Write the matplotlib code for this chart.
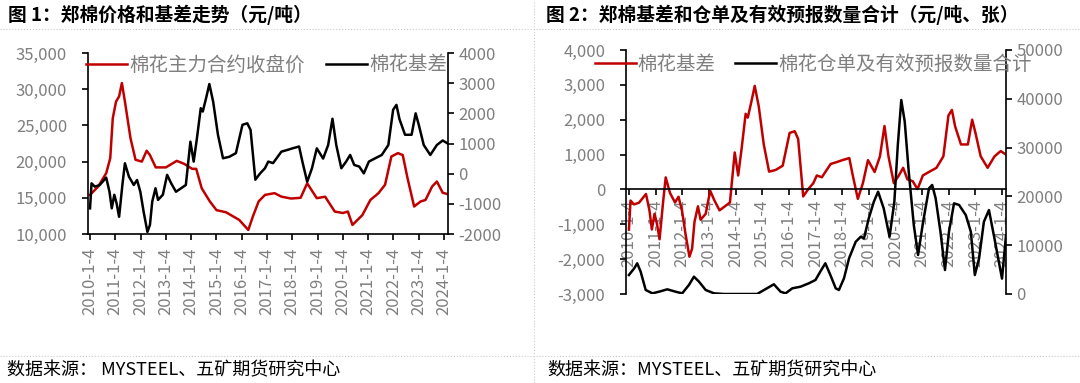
import matplotlib
matplotlib.use('Agg')
import matplotlib.pyplot as plt
import matplotlib.ticker as mticker
from matplotlib.lines import Line2D

plt.rcParams['font.family'] = ['Noto Sans CJK SC', 'DejaVu Sans']
plt.rcParams['axes.unicode_minus'] = False

# 棉花主力合约收盘价 (元/吨), 时间按小数年份读取
t_price = [2010.0, 2010.32, 2010.64, 2010.8, 2010.9, 2011.03, 2011.15, 2011.26, 2011.38, 2011.6,
           2011.8, 2012.05, 2012.24, 2012.37, 2012.6, 2013.0, 2013.43, 2013.72, 2014.04, 2014.2,
           2014.42, 2014.74, 2015.0, 2015.38, 2015.9, 2016.26, 2016.45, 2016.67, 2016.92, 2017.3,
           2017.57, 2017.95, 2018.33, 2018.59, 2018.97, 2019.3, 2019.68, 2020.0, 2020.2, 2020.38,
           2020.77, 2021.09, 2021.41, 2021.67, 2021.92, 2022.18, 2022.37, 2022.56, 2022.82, 2023.08,
           2023.27, 2023.53, 2023.72, 2023.95, 2024.15]
price = [15400, 16550, 18400, 20480, 26000, 28300, 29000, 30850, 28300, 23250,
         20250, 20000, 21500, 20900, 19200, 19200, 20100, 19700, 19000, 19000,
         16300, 14500, 13300, 13000, 11950, 10560, 12500, 14500, 15400, 15640,
         15160, 14900, 15000, 17000, 14950, 15150, 13100, 12900, 13100, 11250,
         12600, 14700, 15640, 16800, 20700, 21170, 20900, 17700, 13800, 14500,
         14700, 16550, 17250, 15700, 15500]

# 棉花基差 (元/吨)
t_basis = [2010.0, 2010.06, 2010.19, 2010.38, 2010.64, 2010.77, 2010.86, 2010.96, 2011.05, 2011.15,
           2011.28, 2011.38, 2011.54, 2011.73, 2011.86, 2011.99, 2012.12, 2012.27, 2012.37, 2012.46,
           2012.59, 2012.69, 2012.88, 2013.05, 2013.21, 2013.4, 2013.6, 2013.79, 2013.97, 2014.1,
           2014.23, 2014.38, 2014.46, 2014.59, 2014.72, 2014.87, 2015.06, 2015.26, 2015.51, 2015.77,
           2016.03, 2016.22, 2016.35, 2016.54, 2016.73, 2016.92, 2017.05, 2017.24, 2017.57, 2017.82,
           2018.01, 2018.27, 2018.4, 2018.59, 2018.78, 2018.97, 2019.22, 2019.42, 2019.59, 2019.74,
           2019.94, 2020.13, 2020.29, 2020.45, 2020.65, 2020.83, 2021.03, 2021.28, 2021.54, 2021.8,
           2021.99, 2022.12, 2022.24, 2022.46, 2022.72, 2022.88, 2023.01, 2023.2, 2023.46, 2023.72,
           2023.95, 2024.15]
basis = [-1150, -320, -430, -380, -130, -600, -1150, -700, -980, -1430,
         -375, 345, -100, -375, -210, -600, -1260, -1930, -1700, -930,
         -485, -870, -700, -40, -320, -600, -485, -375, 1060, 400,
         1180, 2170, 2060, 2500, 2970, 2390, 1290, 510, 560, 680,
         1620, 1670, 1450, -200, 10, 180, 400, 350, 730, 790,
         840, 900, 400, -270, 180, 840, 500, 950, 1820, 950,
         180, 400, 620, 290, 235, 10, 400, 510, 620, 950,
         2120, 2280, 1810, 1290, 1290, 2000, 1600, 950, 620, 950,
         1100, 1000]

# 棉花仓单及有效预报数量合计 (张)
t_receipt = [2010.0, 2010.2, 2010.31, 2010.44, 2010.63, 2010.88, 2011.13, 2011.44, 2011.75, 2012.0,
             2012.25, 2012.44, 2012.63, 2012.88, 2013.19, 2013.56, 2014.81, 2015.07, 2015.44, 2015.69,
             2015.88, 2016.13, 2016.44, 2016.75, 2017.0, 2017.18, 2017.37, 2017.56, 2017.76, 2017.88,
             2018.07, 2018.26, 2018.51, 2018.7, 2018.82, 2019.0, 2019.19, 2019.35, 2019.56, 2019.78,
             2019.96, 2020.09, 2020.22, 2020.35, 2020.5, 2020.69, 2020.85, 2021.04, 2021.26, 2021.38,
             2021.51, 2021.69, 2021.86, 2022.01, 2022.2, 2022.39, 2022.64, 2022.83, 2022.98, 2023.14,
             2023.32, 2023.51, 2023.72, 2024.0, 2024.15]
receipt = [3900, 5270, 6290, 4570, 820, 140, 470, 960, 470, 140,
           1840, 3550, 2520, 820, 140, 0, 0, 820, 1990, 470,
           140, 1160, 1500, 2190, 2870, 4570, 6290, 3890, 1160, 820,
           3210, 7310, 10700, 11740, 11400, 15500, 18900, 20960, 17560, 11740,
           18900, 30500, 39750, 35300, 25060, 14140, 8000, 14800, 21650, 22340,
           19600, 12770, 4920, 12770, 18580, 18240, 16190, 12770, 3890, 7310,
           14800, 17200, 11300, 3150, 12000]

years = list(range(2010, 2025))
year_labels = ['%d-1-4' % y for y in years]

RED = '#C00000'
GRAY = '#7f7f7f'
W, H = 1080, 383

fig = plt.figure(figsize=(W / 100, H / 100), dpi=100)


def style(ax, sides):
    for s in ['top', 'left', 'right', 'bottom']:
        ax.spines[s].set_visible(s in sides)
        ax.spines[s].set_color('black')
        ax.spines[s].set_linewidth(1.2)
    ax.tick_params(direction='out', length=4, width=1.2, color='black',
                   labelcolor=GRAY, labelsize=12)


# ---- 图1 ----
ax1 = fig.add_axes([88 / W, 1 - 234 / H, (448 - 88) / W, (234 - 53) / H])
ax1b = ax1.twinx()
l1, = ax1.plot(t_price, price, color=RED, lw=1.8)
l2, = ax1b.plot(t_basis, basis, color='black', lw=1.8)
ax1.set_xlim(2009.92, 2024.16)
ax1.set_ylim(10000, 35000)
ax1b.set_ylim(-2000, 4000)
ax1.yaxis.set_major_locator(mticker.MultipleLocator(5000))
ax1.yaxis.set_major_formatter(mticker.FuncFormatter(lambda v, p: '{:,.0f}'.format(v)))
ax1b.yaxis.set_major_locator(mticker.MultipleLocator(1000))
style(ax1, ['left', 'bottom'])
style(ax1b, ['right'])
ax1.tick_params(axis='y', pad=11)
ax1.tick_params(axis='x', pad=6)
ax1.set_xticks(years)
ax1.set_xticklabels(year_labels, rotation=90)
fig.legend([l1, l2], ['棉花主力合约收盘价', '棉花基差'], loc='center left',
           bbox_to_anchor=(86 / W, 1 - 65 / H), ncol=2, frameon=False, fontsize=14,
           labelcolor=GRAY, handlelength=2.1, handletextpad=0.12, columnspacing=1.1,
           borderpad=0, borderaxespad=0)

# ---- 图2 ----
ax2 = fig.add_axes([626 / W, 1 - 294 / H, (1006 - 626) / W, (294 - 50) / H])
ax2b = ax2.twinx()
r1, = ax2.plot(t_basis, basis, color=RED, lw=1.8)
r2, = ax2b.plot(t_receipt, receipt, color='black', lw=1.8)
ax2.set_xlim(2009.89, 2024.15)
ax2.set_ylim(-3000, 4000)
ax2b.set_ylim(0, 50000)
style(ax2, ['left', 'bottom'])
style(ax2b, ['right'])
ax2.spines['bottom'].set_position(('data', 0))
ax2.yaxis.set_major_locator(mticker.MultipleLocator(1000))
ax2.yaxis.set_major_formatter(mticker.FuncFormatter(lambda v, p: '{:,.0f}'.format(v)))
ax2b.yaxis.set_major_locator(mticker.MultipleLocator(10000))
ax2.tick_params(axis='y', pad=11)
ax2.set_xticks(years)
ax2.set_xticklabels(year_labels, rotation=90)
ax2.tick_params(axis='x', direction='out', length=4, width=1.2, color='black',
                labelcolor=GRAY, labelsize=12)
fig.legend([r1, r2], ['棉花基差', '棉花仓单及有效预报数量合计'], loc='center left',
           bbox_to_anchor=(595 / W, 1 - 64 / H), ncol=2, frameon=False, fontsize=14,
           labelcolor=GRAY, handlelength=2.1, handletextpad=0.1, columnspacing=1.0,
           borderpad=0, borderaxespad=0)

# ---- 标题 / 来源 / 分隔线 ----
fig.text(8 / W, 1 - 15 / H, '图 1：郑棉价格和基差走势（元/吨）', fontsize=13.5,
         fontweight='bold', va='center', ha='left')
fig.text(546 / W, 1 - 15 / H, '图 2：郑棉基差和仓单及有效预报数量合计（元/吨、张）', fontsize=13.5,
         fontweight='bold', va='center', ha='left')
fig.text(7 / W, 1 - 370 / H, '数据来源： MYSTEEL、五矿期货研究中心', fontsize=13,
         va='center', ha='left')
fig.text(547 / W, 1 - 370 / H, '数据来源：MYSTEEL、五矿期货研究中心', fontsize=13,
         va='center', ha='left')

for yy in [29, 356]:
    fig.add_artist(Line2D([0, 1], [1 - yy / H, 1 - yy / H], transform=fig.transFigure,
                          color='#cccccc', lw=0.8, ls=':'))
fig.add_artist(Line2D([534 / W, 534 / W], [0, 1], transform=fig.transFigure,
                      color='#cccccc', lw=0.8, ls=':'))

fig.savefig('out.png', dpi=100, facecolor='white')
